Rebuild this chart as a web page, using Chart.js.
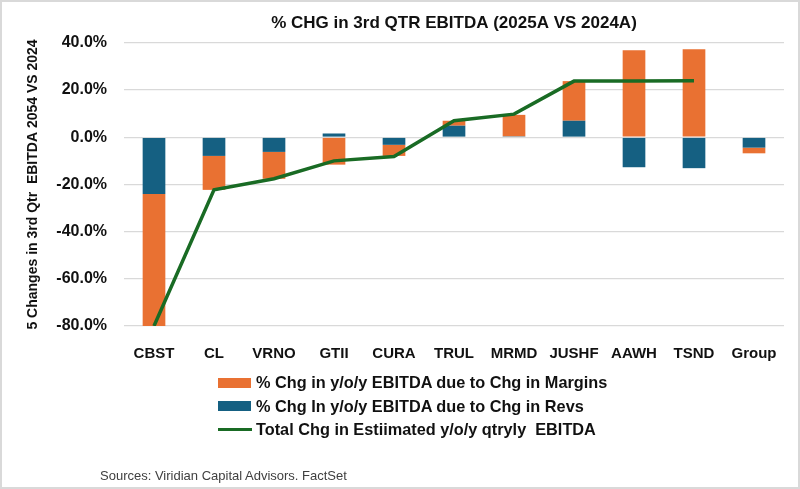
<!DOCTYPE html>
<html>
<head>
<meta charset="utf-8">
<script src="https://cdn.jsdelivr.net/npm/chart.js@4.4.1/dist/chart.umd.min.js"></script>
<style>
  html, body { margin: 0; padding: 0; background: #fff; }
  #wrap { position: relative; width: 800px; height: 489px; overflow: hidden; font-family: "Liberation Sans", Arial, sans-serif; }
  #chart { position: absolute; left: 0; top: 0; }
  #frame { position: absolute; left: 0; top: 0; width: 800px; height: 489px; box-sizing: border-box; border: 2px solid #d9d9d9; pointer-events: none; }
  #legend { position: absolute; left: 218px; top: 371px; }
  .item { display: flex; align-items: center; height: 23.5px; font-size: 16.3px; font-weight: bold; color: #111; white-space: pre; }
  .sw { width: 33px; height: 10px; margin-right: 5px; }
  .ln { width: 34px; height: 3px; margin-right: 4px; }
  #source { position: absolute; left: 100px; top: 468px; font-size: 13px; color: #404040; }
</style>
</head>
<body>
<div id="wrap">
  <canvas id="chart" width="800" height="489"></canvas>
  <div id="legend"></div>
  <div id="source">Sources: Viridian Capital Advisors. FactSet</div>
  <div id="frame"></div>
</div>
<script>
  const categories = ['CBST','CL','VRNO','GTII','CURA','TRUL','MRMD','JUSHF','AAWH','TSND','Group'];
  const revsChg    = [-24.0, -7.9, -6.2,  1.6, -3.2,  4.9,  0.4,  7.0, -12.7, -13.1, -4.4];
  const marginChg  = [-56.0,-14.4,-11.4,-11.6, -4.7,  2.1,  9.1, 16.8,  36.9,  37.3, -2.4];
  const totalChg   = [-80.0,-22.3,-17.6,-10.0, -8.2,  7.0,  9.8, 23.8,  23.9,  24.0, null];
  const yTicks = [40, 20, 0, -20, -40, -60, -80];

  const labelMargins = '% Chg in y/o/y EBITDA due to Chg in Margins';
  const labelRevs = '% Chg In y/o/y EBITDA due to Chg in Revs';
  const labelTotal = 'Total Chg in Estiimated y/o/y qtryly  EBITDA';

  const orange = '#E97132', teal = '#156082', green = '#196B24';

  const ctx = document.getElementById('chart').getContext('2d');
  const chart = new Chart(ctx, {
    type: 'bar',
    data: {
      labels: categories,
      datasets: [
        { type: 'line', label: labelTotal, data: totalChg, borderColor: green, backgroundColor: green,
          borderWidth: 3.5, pointRadius: 0, tension: 0, stack: 'total', order: 0, spanGaps: false },
        { label: labelRevs, data: revsChg, backgroundColor: teal, stack: 'bars', order: 1,
          barPercentage: 0.63, categoryPercentage: 0.6 },
        { label: labelMargins, data: marginChg, backgroundColor: orange, stack: 'bars', order: 1,
          barPercentage: 0.63, categoryPercentage: 0.6 }
      ]
    },
    options: {
      responsive: false,
      animation: false,
      layout: { padding: { left: 0, right: 16, top: 0, bottom: 0 } },
      plugins: {
        legend: { display: false },
        tooltip: { enabled: false },
        title: {
          display: true, fullSize: false,
          text: '% CHG in 3rd QTR EBITDA (2025A VS 2024A)',
          color: '#111',
          font: { family: 'Liberation Sans', size: 17, weight: 'bold' },
          padding: { top: 13, bottom: 9.5 }
        }
      },
      scales: {
        x: {
          stacked: true,
          grid: { display: false },
          border: { display: false },
          ticks: { color: '#111', font: { family: 'Liberation Sans', size: 15, weight: 'bold' }, padding: 11, maxRotation: 0 },
          afterFit: s => { s.height = 163; }
        },
        y: {
          stacked: true,
          min: -80, max: 40,
          afterBuildTicks: s => { s.ticks = yTicks.map(v => ({ value: v })); },
          grid: { color: '#d9d9d9', lineWidth: 1.3, drawTicks: false },
          border: { display: false },
          ticks: {
            color: '#111', padding: 17,
            font: { family: 'Liberation Sans', size: 16, weight: 'bold' },
            callback: v => v.toFixed(1) + '%'
          },
          title: {
            display: true,
            text: '5 Changes in 3rd Qtr  EBITDA 2054 VS 2024',
            color: '#111',
            font: { family: 'Liberation Sans', size: 14, weight: 'bold' },
            padding: { top: 25, bottom: 0 }
          },
          afterFit: s => { s.width = 124; }
        }
      }
    }
  });

  // legend in the same order as the original (margins, revs, total)
  const legendOrder = [2, 1, 0];
  const lg = document.getElementById('legend');
  legendOrder.forEach(i => {
    const ds = chart.data.datasets[i];
    const row = document.createElement('div');
    row.className = 'item';
    const mark = document.createElement('span');
    mark.className = ds.type === 'line' ? 'ln' : 'sw';
    mark.style.background = ds.type === 'line' ? ds.borderColor : ds.backgroundColor;
    row.appendChild(mark);
    row.appendChild(document.createTextNode(ds.label));
    lg.appendChild(row);
  });
</script>
</body>
</html>
